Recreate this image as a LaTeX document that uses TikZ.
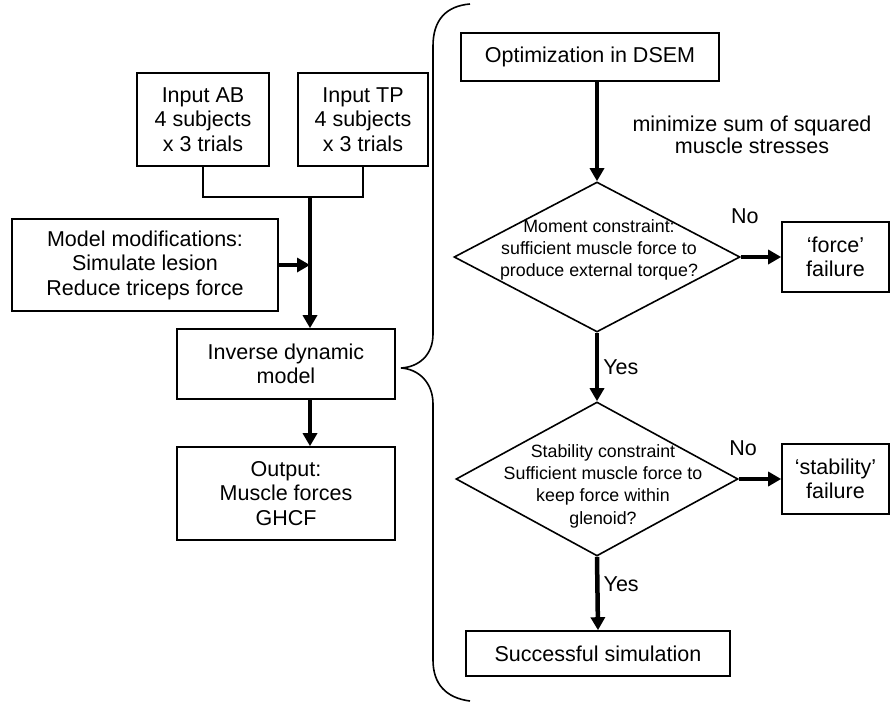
\documentclass[tikz,border=0pt]{standalone}
\usepackage{fontspec}
\setmainfont{Liberation Sans}
\usetikzlibrary{positioning,arrows.meta,shapes.geometric}

\tikzset{
  box/.style={draw,line width=1.6pt,align=center,inner sep=0pt,
    font=\fontsize{21.5}{24.5}\selectfont},
  decision/.style={diamond,draw,line width=1.6pt,inner sep=0pt},
  dtext/.style={align=center,inner sep=0pt,font=\fontsize{17.8}{22.3}\selectfont},
  lbl/.style={inner sep=0pt,font=\fontsize{21.5}{22}\selectfont},
  link/.style={line width=1.8pt},
  flow/.style={line width=4.5pt,-{Triangle[length=13pt,width=14pt]}},
}

\begin{document}
\begin{tikzpicture}[x=1pt,y=-1pt]
  \useasboundingbox (0,0) rectangle (891,704);
  % left column
  \node[box,minimum width=132pt,minimum height=93pt] (ab) at (203,119.5) {Input AB\\4 subjects\\x 3 trials};
  \node[box,minimum width=130pt,minimum height=93pt] (tp) at (363,119.5) {Input TP\\4 subjects\\x 3 trials};
  \node[box,minimum width=266pt,minimum height=92pt] (mod) at (145,265) {Model modifications:\\Simulate lesion\\Reduce triceps force};
  \node[box,minimum width=218pt,minimum height=70pt] (inv) at (286,364) {Inverse dynamic\\model};
  \node[box,minimum width=218pt,minimum height=93pt] (out) at (286,493.5) {Output:\\Muscle forces\\GHCF};
  \coordinate (junc) at (310,197);
  \draw[link] (ab.south) |- (junc) -| (tp.south);
  \draw[flow] (junc) -- (junc |- inv.north);
  \draw[flow] (mod.east) -- (mod.east -| junc);
  \draw[flow] (inv.south -| junc) -- (out.north -| junc);
  % brace
  \draw[line width=1.6pt] (470,4) .. controls (446,6) and (433,20) .. (433,46)
    -- (433,334) .. controls (433,356) and (418,367) .. (401,368)
    .. controls (418,369) and (433,382) .. (433,404)
    -- (433,660) .. controls (433,684) and (446,698) .. (470,701);
  % right column
  \node[box,minimum width=258pt,minimum height=48pt] (opt) at (590,57) {Optimization in DSEM};
  \node[lbl,align=center] (minim) at (752,135) {minimize sum of squared\\muscle stresses};
  \node[decision,minimum width=286pt,minimum height=150pt] (d1) at (597,257) {};
  \node[dtext] (d1txt) at (599,250) {Moment constraint:\\sufficient muscle force to\\produce external torque?};
  \node[box,minimum width=107pt,minimum height=70pt] (fforce) at (835.5,257) {‘force’\\failure};
  \node[decision,minimum width=282pt,minimum height=154pt] (d2) at (597,479) {};
  \node[dtext] (d2txt) at (603,486) {Stability constraint\\Sufficient muscle force to\\keep force within\\glenoid?};
  \node[box,minimum width=107pt,minimum height=70pt] (fstab) at (835.5,479) {‘stability’\\failure};
  \node[box,minimum width=264pt,minimum height=45pt] (succ) at (598,653.5) {Successful simulation};
  \draw[flow] (opt.south -| d1.north) -- (d1.north);
  \draw[flow] (d1.east) -- node[lbl,pos=0.1,above=31pt]{No} (fforce.west);
  \draw[flow] (d1.south) -- node[lbl,right=4pt]{Yes} (d2.north);
  \draw[flow] (d2.east) -- node[lbl,pos=0.1,above=21pt]{No} (fstab.west);
  \draw[flow] (d2.south) -- node[lbl,pos=0.37,right=4pt]{Yes} (succ.north);
\end{tikzpicture}
\end{document}
